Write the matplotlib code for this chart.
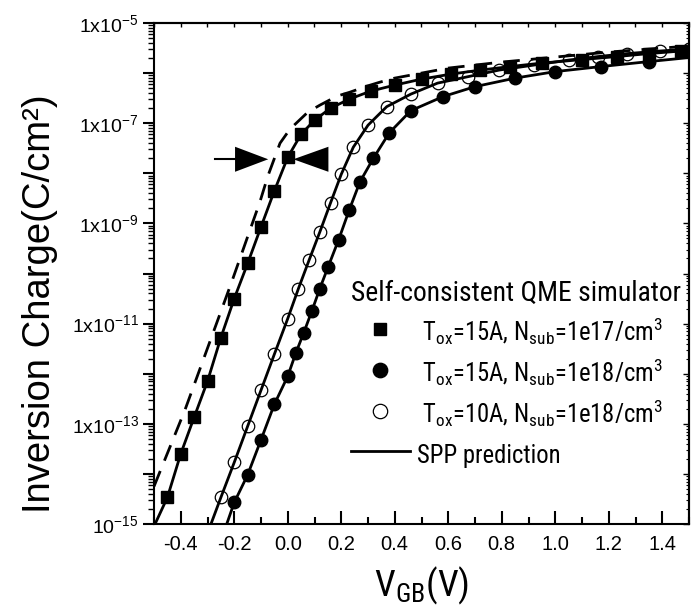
import numpy as np
import matplotlib
matplotlib.use('Agg')
import matplotlib.pyplot as plt
from matplotlib.ticker import LogLocator, MultipleLocator, FuncFormatter, NullFormatter
from matplotlib.font_manager import FontProperties
from matplotlib import font_manager as fm

# ---------------- data (log10 of charge, C/cm^2) ----------------
# Self-consistent QME simulator, Tox=15A, Nsub=1e17
sq_v = [-0.45, -0.40, -0.35, -0.30, -0.25, -0.20, -0.15, -0.10, -0.05, 0.00, 0.05, 0.10,
        0.16, 0.23, 0.31, 0.40, 0.50, 0.61, 0.72, 0.83, 0.95, 1.10, 1.23, 1.35, 1.47]
sq_log = [-14.47, -13.60, -12.87, -12.15, -11.28, -10.50, -9.80, -9.07, -8.35, -7.68, -7.22, -6.94,
          -6.70, -6.52, -6.36, -6.24, -6.12, -6.02, -5.94, -5.87, -5.80, -5.73, -5.67, -5.61, -5.56]
# Tox=15A, Nsub=1e18
fc_v = [-0.20, -0.15, -0.10, -0.05, 0.00, 0.03, 0.06, 0.09, 0.12, 0.15, 0.19, 0.23, 0.27,
        0.32, 0.38, 0.46, 0.58, 0.70, 0.85, 1.00, 1.17, 1.35]
fc_log = [-14.57, -14.02, -13.32, -12.61, -12.05, -11.59, -11.18, -10.75, -10.30, -9.88, -9.33,
          -8.73, -8.17, -7.70, -7.19, -6.75, -6.47, -6.27, -6.10, -5.97, -5.87, -5.77]
# Tox=10A, Nsub=1e18
hc_v = [-0.25, -0.20, -0.15, -0.10, -0.05, 0.00, 0.04, 0.08, 0.12, 0.16, 0.20, 0.245, 0.30,
        0.37, 0.46, 0.56, 0.675, 0.79, 0.92, 1.05, 1.16, 1.27, 1.39, 1.50]
hc_log = [-14.47, -13.77, -13.05, -12.33, -11.61, -10.90, -10.30, -9.73, -9.17, -8.59, -8.02,
          -7.48, -7.04, -6.67, -6.42, -6.20, -6.07, -5.94, -5.84, -5.74, -5.67, -5.61, -5.56, -5.52]

# SPP prediction lines
sppA_v = [-0.496] + sq_v + [1.50]
sppA_log = [-15.0] + sq_log + [-5.54]
sppB_v = [-0.228] + fc_v + [1.50]
sppB_log = [-15.0] + fc_log + [-5.69]
sppC_v = [-0.287] + hc_v
sppC_log = [-15.0] + hc_log

# dashed curve (no legend entry)
dash_v = [-0.50, -0.384, -0.209, -0.104, -0.074, -0.029, 0.008, 0.075, 0.12, 0.184, 0.233,
          0.296, 0.345, 0.40, 0.60, 0.80, 1.00, 1.20, 1.50]
dash_log = [-14.25, -12.72, -10.16, -8.57, -8.05, -7.40, -7.12, -6.78, -6.64, -6.46, -6.38,
            -6.26, -6.18, -6.10, -5.90, -5.78, -5.68, -5.58, -5.46]

# arrows
arrow_log = -7.72
arrow_half = 0.25
left_tail, left_base, left_tip = -0.272, -0.197, -0.073
right_tip, right_base = 0.021, 0.152

labels = [r' T$_{ox}$=15A, N$_{sub}$=1e17/cm$^3$',
          r' T$_{ox}$=15A, N$_{sub}$=1e18/cm$^3$',
          r' T$_{ox}$=10A, N$_{sub}$=1e18/cm$^3$',
          'SPP prediction']
legend_title = 'Self-consistent QME simulator'

# ---------------- style ----------------
plt.rcParams['font.family'] = ['Liberation Sans', 'DejaVu Sans']
plt.rcParams['mathtext.default'] = 'regular'
plt.rcParams['axes.unicode_minus'] = False

# pick a narrow sans if one is installed, else regular Liberation Sans
_names = {f.name for f in fm.fontManager.ttflist}
_narrow = None
for _c in ['Liberation Sans Narrow', 'Arial Narrow', 'Roboto Condensed', 'Open Sans Condensed',
           'Noto Sans Condensed']:
    if _c in _names:
        _narrow = FontProperties(family=[_c, 'DejaVu Sans'])
        break
if _narrow is None:
    for f in fm.fontManager.ttflist:
        if f.name in ('Noto Sans', 'Open Sans', 'Roboto') and f.stretch in ('condensed', 'semi-condensed') \
                and f.weight in ('normal', 400, 'regular') and f.style == 'normal':
            _narrow = FontProperties(fname=f.fname)
            break
if _narrow is None:
    _narrow = FontProperties(family=['Liberation Sans', 'DejaVu Sans'])

fig = plt.figure(figsize=(6.91, 6.13), dpi=100)
ax = fig.add_axes([154 / 691, 89 / 613, 535 / 691, 501 / 613])
ax.set_yscale('log')
renderer = fig.canvas.get_renderer()


def fit_size(text, target_px, base=20.0):
    fp = _narrow.copy()
    fp.set_size(base)
    t = fig.text(0, 0, text, fontproperties=fp)
    w = t.get_window_extent(renderer).width
    t.remove()
    return base * target_px / w


title_size = fit_size(legend_title, 330)
entry_size = min(fit_size(labels[0].strip(), 240), fit_size(labels[3], 162))

L = lambda a: 10.0 ** np.asarray(a)

ax.plot(dash_v, L(dash_log), color='k', lw=2.0, dashes=(6, 4), zorder=2)
lA, = ax.plot(sppA_v, L(sppA_log), color='k', lw=2.0, zorder=2)
ax.plot(sppB_v, L(sppB_log), color='k', lw=2.0, zorder=2)
ax.plot(sppC_v, L(sppC_log), color='k', lw=2.0, zorder=2)

hs, = ax.plot(sq_v, L(sq_log), ls='none', marker='s', ms=8, color='k', zorder=3)
hf, = ax.plot(fc_v, L(fc_log), ls='none', marker='o', ms=9, color='k', zorder=3)
ho, = ax.plot(hc_v, L(hc_log), ls='none', marker='o', ms=9, mfc='none', mec='k', mew=0.9, zorder=3)

# arrows
ax.plot([left_tail, left_base], L([arrow_log, arrow_log]), color='k', lw=1.5)
ax.fill([left_tip, left_base, left_base], L([arrow_log, arrow_log + arrow_half, arrow_log - arrow_half]),
        color='k', lw=0)
ax.fill([right_tip, right_base, right_base], L([arrow_log, arrow_log + arrow_half, arrow_log - arrow_half]),
        color='k', lw=0)

ax.set_xlim(-0.5, 1.5)
ax.set_ylim(1e-15, 1e-5)

for s in ax.spines.values():
    s.set_linewidth(1.5)

# x ticks
ax.xaxis.set_major_locator(MultipleLocator(0.2))
ax.xaxis.set_minor_locator(MultipleLocator(0.1))
ax.xaxis.set_major_formatter(FuncFormatter(lambda v, p: '%.1f' % (0.0 if abs(v) < 1e-9 else v)))
ax.tick_params(axis='x', which='major', direction='in', length=9.5, width=1.5, labelsize=14.5, pad=8)
ax.tick_params(axis='x', which='minor', direction='in', length=5, width=1.5)

# y ticks
ax.yaxis.set_major_locator(LogLocator(base=10, numticks=30))
ax.yaxis.set_minor_locator(LogLocator(base=10, subs=np.arange(2, 10), numticks=200))


def yfmt(v, p):
    e = int(round(np.log10(v)))
    if e % 2 == 0:
        return ''
    if e == -15:
        return r'10$^{-15}$'
    return r'1x10$^{%d}$' % e


ax.yaxis.set_major_formatter(FuncFormatter(yfmt))
ax.yaxis.set_minor_formatter(NullFormatter())
ax.tick_params(axis='y', which='major', direction='out', length=8, width=1.5, labelsize=14, pad=3)
ax.tick_params(axis='y', which='minor', direction='out', length=4, width=1)

# top and right mirrored ticks
secx = ax.secondary_xaxis('top')
secx.xaxis.set_major_locator(MultipleLocator(0.1))
secx.xaxis.set_major_formatter(NullFormatter())
secx.tick_params(direction='in', length=3, width=1)
secx.spines['top'].set_linewidth(1.5)
secy = ax.secondary_yaxis('right')
secy.yaxis.set_major_locator(LogLocator(base=10, numticks=30))
secy.yaxis.set_minor_locator(LogLocator(base=10, subs=np.arange(2, 10), numticks=200))
secy.yaxis.set_major_formatter(NullFormatter())
secy.yaxis.set_minor_formatter(NullFormatter())
secy.tick_params(which='major', direction='in', length=4, width=1)
secy.tick_params(which='minor', direction='in', length=2, width=0.8)
secy.spines['right'].set_linewidth(1.5)

xl_fp = _narrow.copy()
xl_fp.set_size(fit_size(r'V$_{GB}$(V)', 96))
ax.set_xlabel(r'V$_{GB}$(V)', fontproperties=xl_fp)
ax.xaxis.set_label_coords(0.5, -0.082)
ax.set_ylabel('Inversion Charge(C/cm\u00b2)', fontsize=27.5, family=['Liberation Sans', 'DejaVu Sans'])
ax.yaxis.set_label_coords(-0.179, 0.439)

ent_fp = _narrow.copy()
ent_fp.set_size(entry_size)
tit_fp = _narrow.copy()
tit_fp.set_size(title_size)
leg = ax.legend([hs, hf, ho, lA], labels, loc='upper left', bbox_to_anchor=(0.368, 0.488),
                frameon=False, prop=ent_fp, title=legend_title, title_fontproperties=tit_fp,
                alignment='left', handlelength=2.4, handleheight=1.55, handletextpad=0.3,
                labelspacing=0.36, borderpad=0, borderaxespad=0, markerscale=1.15, numpoints=1)

fig.savefig('out.png', dpi=100)
